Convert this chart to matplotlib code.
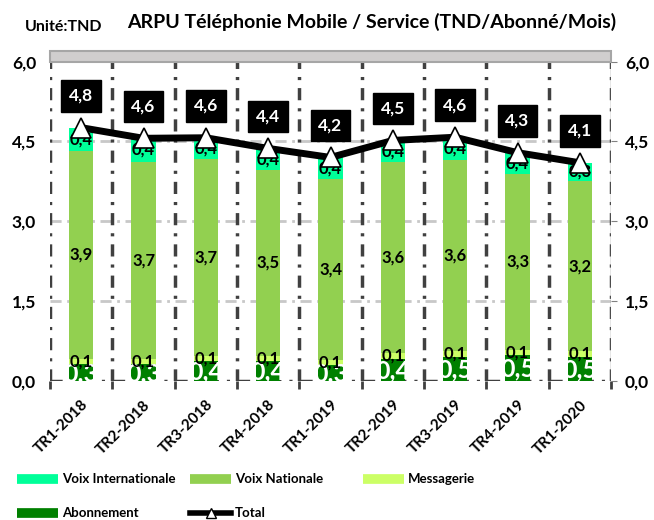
import numpy as np
import matplotlib
matplotlib.use("Agg")
import matplotlib.pyplot as plt
from matplotlib.lines import Line2D
from matplotlib.patches import Rectangle

plt.rcParams['font.family'] = ['Lato', 'DejaVu Sans']
plt.rcParams['font.weight'] = 'bold'

# Données ARPU (TND/Abonné/Mois)
trimestres = ['TR1-2018', 'TR2-2018', 'TR3-2018', 'TR4-2018', 'TR1-2019',
              'TR2-2019', 'TR3-2019', 'TR4-2019', 'TR1-2020']
abonnement = [0.32, 0.32, 0.37, 0.37, 0.30, 0.42, 0.46, 0.49, 0.46]
messagerie = [0.10, 0.10, 0.10, 0.10, 0.10, 0.10, 0.10, 0.10, 0.10]
voix_nationale = [3.90, 3.70, 3.70, 3.50, 3.40, 3.60, 3.60, 3.30, 3.20]
voix_internationale = [0.44, 0.44, 0.40, 0.40, 0.40, 0.40, 0.42, 0.40, 0.34]

series = [
    ('Abonnement', abonnement, '#008000'),
    ('Messagerie', messagerie, '#CCFF66'),
    ('Voix Nationale', voix_nationale, '#92D050'),
    ('Voix Internationale', voix_internationale, '#00FF99'),
]
total = np.sum([s[1] for s in series], axis=0)


def virgule(v):
    return f"{v:.1f}".replace('.', ',')


fig = plt.figure(figsize=(6.54, 5.2), dpi=100)
ax = fig.add_axes([50 / 654, 1 - 381 / 520, 561 / 654, 330 / 520])
x = np.arange(len(trimestres))
ax.set_xlim(-0.5, len(trimestres) - 0.5)
ax.set_ylim(0, 6.2)
for sp in ax.spines.values():
    sp.set_visible(False)

# bande grise en haut
ax.add_patch(Rectangle((-0.5, 6.0), len(trimestres), 0.2, facecolor='#D0CECE',
                       edgecolor='#A6A6A6', lw=1.5, zorder=1, clip_on=False))

# grille
for yv in [1.5, 3.0, 4.5]:
    ax.axhline(yv, color='#C8C8C8', lw=2, ls=(0, (4, 2, 1, 2)), zorder=0.5)
for b in np.arange(-0.5, len(trimestres)):
    ax.axvline(b, ymax=6.0 / 6.2, color='#404040', lw=2.5,
               ls=(0, (3.5, 2.3, 0.9, 2.3)), zorder=0.6)
ax.plot([len(trimestres) - 0.5] * 2, [0, 6.0], color='#808080', lw=1, zorder=0.7)
ax.axhline(0, color='#404040', lw=2.5, ls=(0, (3.5, 2.3, 0.9, 2.3)), zorder=0.6)

# barres empilées
bas = np.zeros(len(trimestres))
for nom, vals, col in series:
    ax.bar(x, vals, 0.39, bottom=bas, color=col, zorder=2)
    for i, v in enumerate(vals):
        if nom == 'Abonnement':
            ax.text(x[i], bas[i] + v / 2 - 0.02, virgule(v), ha='center', va='center',
                    color='white', fontsize=18, fontweight='bold', zorder=6)
        else:
            ax.text(x[i], bas[i] + v / 2, virgule(v), ha='center', va='center',
                    color='black', fontsize=12, fontweight='bold', zorder=7)
    bas = bas + np.array(vals)

# total
ax.plot(x, total, color='black', lw=5, marker='^', ms=15, mfc='white',
        mec='black', mew=1.2, zorder=8)
for i, t in enumerate(total):
    ax.annotate(virgule(t), (x[i], t), xytext=(0, 23), textcoords='offset points',
                ha='center', va='center', color='white', fontsize=12.5,
                fontweight='bold', zorder=9,
                bbox=dict(boxstyle='square,pad=0.45', fc='black', ec='black'))

# axes
ax.set_yticks([0, 1.5, 3.0, 4.5, 6.0])
ax.set_yticklabels([virgule(v) for v in [0, 1.5, 3.0, 4.5, 6.0]])
ax.tick_params(axis='y', left=False, right=True, labelleft=True, labelright=True,
               length=4, color='#808080', pad=6, labelsize=12.5)
ax.set_xticks(x)
ax.set_xticklabels(trimestres, rotation=45, ha='right', rotation_mode='anchor',
                   fontsize=11, fontweight='bold')
ax.tick_params(axis='x', which='major', length=0, pad=12)
ax.set_xticks(np.arange(-0.5, len(trimestres)), minor=True)
ax.tick_params(axis='x', which='minor', length=6, width=2, color='#404040')

# titres
fig.text(372 / 654, 1 - 22 / 520, 'ARPU Téléphonie Mobile / Service (TND/Abonné/Mois)',
         ha='center', va='center', fontsize=14, fontweight='bold')
fig.text(25 / 654, 1 - 27 / 520, 'Unité:TND', ha='left', va='center',
         fontsize=11.5, fontweight='bold')

# légende
entrees = [('Voix Internationale', '#00FF99'), ('Voix Nationale', '#92D050'),
           ('Messagerie', '#CCFF66'), ('Abonnement', '#008000'), ('Total', 'black')]
for k, (nom, col) in enumerate(entrees):
    x0 = [17, 190, 363][k % 3] / 654
    y0 = 1 - [479, 513][k // 3] / 520
    x1 = x0 + 41 / 654
    if nom == 'Total':
        fig.add_artist(Line2D([x0, (x0 + x1) / 2, x1], [y0] * 3, color='black', lw=4,
                              marker='^', markevery=[1], ms=7, mfc='white', mec='black'))
    else:
        fig.add_artist(Line2D([x0, x1], [y0, y0], color=col, lw=7, solid_capstyle='butt'))
    fig.text(x1 + 4 / 654, y0, nom, ha='left', va='center', fontsize=9.5, fontweight='bold')

plt.savefig('out.png', dpi=100)
